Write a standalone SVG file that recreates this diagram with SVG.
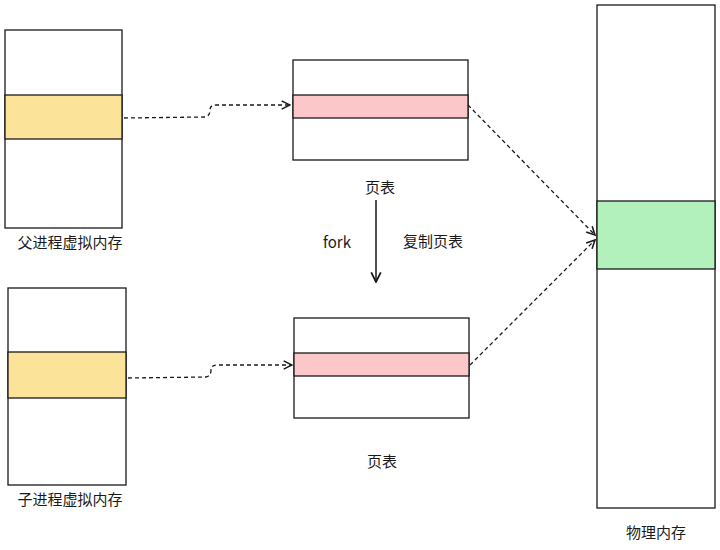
<svg xmlns="http://www.w3.org/2000/svg" width="720" height="550" viewBox="0 0 720 550">
<style>
.b{fill:#fff;stroke:#1a1a1a;stroke-width:1.3}
.y{fill:#fbe49a;stroke:#1a1a1a;stroke-width:1.3}
.p{fill:#fcc7c9;stroke:#1a1a1a;stroke-width:1.3}
.g{fill:#b2f0bc;stroke:#1a1a1a;stroke-width:1.3}
text{font-family:"Noto Sans CJK SC","Noto Sans",sans-serif;font-size:15px;fill:#1a1a1a;text-anchor:middle}
.d{fill:none;stroke:#1a1a1a;stroke-width:1.3;stroke-dasharray:4 3}
</style>
<defs><marker id="a" viewBox="0 0 10 10" refX="9" refY="5" markerWidth="8" markerHeight="8" orient="auto"><path d="M1,1 L9,5 L1,9" fill="none" stroke="#1a1a1a" stroke-width="1.5"/></marker></defs>
<rect width="720" height="550" fill="#fff"/>
<g id="parent"><rect class="b" x="5" y="30" width="117" height="198"/><rect class="y" x="5" y="95" width="117" height="44"/><text x="70" y="248">父进程虚拟内存</text></g>
<g id="child"><rect class="b" x="8" y="288" width="118" height="197"/><rect class="y" x="8" y="352" width="118" height="46"/><text x="70" y="505">子进程虚拟内存</text></g>
<g id="pt1"><rect class="b" x="293" y="60" width="175" height="100"/><rect class="p" x="293" y="95" width="175" height="23"/><text x="380" y="193">页表</text></g>
<g id="pt2"><rect class="b" x="294" y="318" width="175" height="100"/><rect class="p" x="294" y="353" width="175" height="23"/><text x="382" y="467">页表</text></g>
<g id="phys"><rect class="b" x="597" y="5" width="118" height="503"/><rect class="g" x="597" y="201" width="118" height="68"/><text x="656" y="538">物理内存</text></g>
<text x="337" y="248">fork</text><text x="433" y="247">复制页表</text>
<g id="connectors">
<path class="d" d="M124,118 L205,117 Q210,116 210,110 Q210,105 216,105 L290,105" marker-end="url(#a)"/>
<path class="d" d="M128,378 L206,377 Q211,376 211,370 Q211,365 217,365 L292,365" marker-end="url(#a)"/>
<path class="d" d="M468,105 L595,235" marker-end="url(#a)"/>
<path class="d" d="M470,365 L595,240" marker-end="url(#a)"/>
<path d="M376,200 L376,282" fill="none" stroke="#1a1a1a" stroke-width="1.5" marker-end="url(#a)"/>
</g>
</svg>
